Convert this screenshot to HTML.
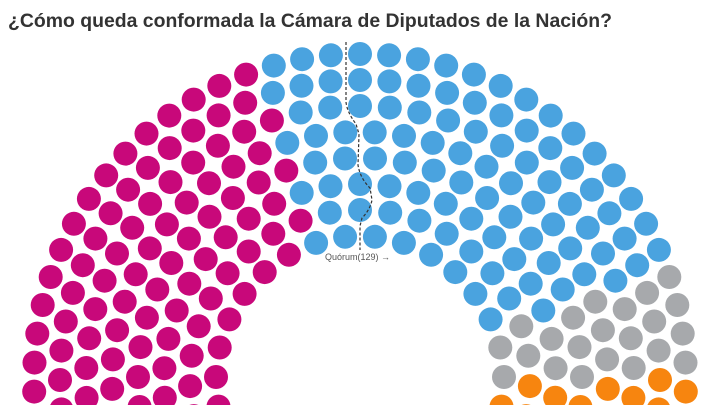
<!DOCTYPE html>
<html><head><meta charset="utf-8"><style>
html,body{margin:0;padding:0;background:#fff;width:720px;height:405px;overflow:hidden}
svg{display:block}
</style></head><body>
<svg id="s" width="720" height="405" viewBox="0 0 720 405" xmlns="http://www.w3.org/2000/svg">
<text x="8" y="27" font-family="Liberation Sans, Arial, sans-serif" font-weight="bold" font-size="19" fill="#333" textLength="604" lengthAdjust="spacingAndGlyphs">¿Cómo queda conformada la Cámara de Diputados de la Nación?</text>
<g id="dots"></g>
<path d="M346,42 L346,102 Q347,112 356,124 L359,134 L358,165 Q360,178 370,188 L372,200 Q370,210 362,218 L360,226 L360,250" fill="none" stroke="#333" stroke-width="1.2" stroke-dasharray="3,2"/>
<text x="325" y="260" font-family="Liberation Sans, Arial, sans-serif" font-size="9" fill="#555">Quórum(129) →</text>
</svg>
<script>
(function(){
var cx=360,cy=380,counts=[20,23,27,30,34,37,41,45],seats=[];
var a0=202.5,a1=-22.5;
for(var i=0;i<8;i++){var r=144+26*i,n=counts[i];
 for(var j=0;j<n;j++){var a=a0-j*(a0-a1)/(n-1);seats.push({a:a,r:r});}}
seats.sort(function(p,q){return q.a-p.a||q.r-p.r;});
var g=document.getElementById('dots'),ns='http://www.w3.org/2000/svg';
for(var k=0;k<seats.length;k++){
 var c=k<108?'#c8087a':k<206?'#4aa3df':k<228?'#a7a9ac':'#f7850f';
 var s=seats[k],t=s.a*Math.PI/180;
 var e=document.createElementNS(ns,'circle');
 e.setAttribute('cx',(cx+s.r*Math.cos(t)).toFixed(1));
 e.setAttribute('cy',(cy-s.r*Math.sin(t)).toFixed(1));
 e.setAttribute('r','12');e.setAttribute('fill',c);
 g.appendChild(e);}
})();
</script>
</body></html>
